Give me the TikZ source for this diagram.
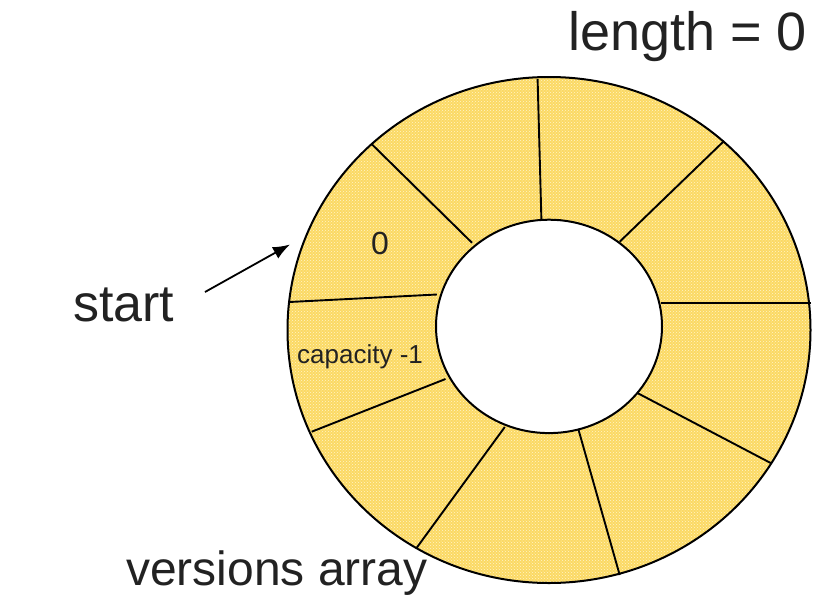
\documentclass[tikz,border=0pt]{standalone}
\usepackage{fontspec}
\setmainfont{Liberation Sans}
\usepackage{tikz}
\usetikzlibrary{arrows.meta,patterns}
\definecolor{ringbg}{RGB}{251,217,100}
\definecolor{ringdot}{RGB}{255,244,200}
\definecolor{txt}{RGB}{34,34,34}
\tikzset{
    ring/.style={ % the filled band of the buffer
        even odd rule,
        fill=ringbg,
        postaction={pattern=crosshatch dots, pattern color=ringdot}
        },
    rim/.style={
        draw=black,
        line width=2pt
        },
    cell/.style={ % border between two slots
        draw=black,
        line width=1.9pt
        },
    big/.style={
        text=txt,
        inner sep=0pt,
        font=\fontsize{50}{54}\selectfont
        },
    small/.style={
        text=txt,
        inner sep=0pt,
        font=\fontsize{26}{28}\selectfont
        },
    arrout/.style={
        -{Latex[length=17pt,width=13pt]},
        line width=1.8pt
        }
}

\begin{document}
\begin{tikzpicture}[x=1pt,y=-1pt]
\useasboundingbox (0,0) rectangle (817,595);

%%%%% centres of the ring
\coordinate (oc) at (549,330);
\coordinate (ic) at (549,326.4);

%%%%% band
\fill[ring] (oc) ellipse [x radius=261.5, y radius=253]
            (ic) ellipse [x radius=113, y radius=106.7];

%%%%% slot borders
\draw[cell] (537.6,79) -- (541.4,219.7);
\draw[cell] (724,141) -- (619.7,241.7);
\draw[cell] (811,303) -- (661,303);
\draw[cell] (771.4,463.4) -- (637,392.8);
\draw[cell] (619.7,575) -- (578.3,429);
\draw[cell] (416.9,547.5) -- (504.8,427);
\draw[cell] (311.7,431.7) -- (445.5,379);
\draw[cell] (289.3,302) -- (436.9,294.5);
\draw[cell] (371.4,143.8) -- (472,242.8);

%%%%% rims
\draw[rim] (oc) ellipse [x radius=261.5, y radius=253];
\draw[rim] (ic) ellipse [x radius=113, y radius=106.7];

%%%%% slot labels
\node[small, font=\fontsize{32}{34}\selectfont, anchor=base] (zero) at (380,254) {0};
\node[small, anchor=base west] (last) at (297,363) {capacity -1};

%%%%% length
\node[big, font=\fontsize{54}{58}\selectfont, anchor=base east] (len) at (807,50) {length = 0};

%%%%% start pointer
\node[big, font=\fontsize{52}{56}\selectfont, anchor=base west] (start) at (73,321) {start};
\coordinate (tail) at (205,292);
\coordinate (head) at (290,244.5);
\draw[arrout] (tail) -- (head);

%%%%% caption
\node[big, font=\fontsize{48}{52}\selectfont, anchor=base west] (vers) at (126,585) {versions array};

\end{tikzpicture}
\end{document}
